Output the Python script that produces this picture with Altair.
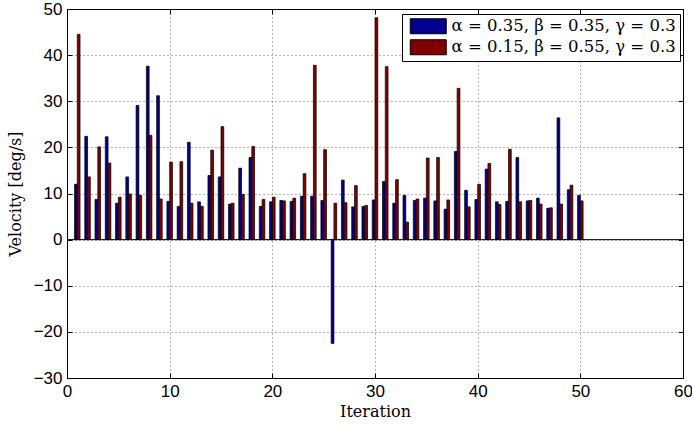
import altair as alt
import pandas as pd

iterations = list(range(1, 51))
blue_vals = [12.0, 22.4, 8.7, 22.3, 7.9, 13.6, 29.1, 37.6, 31.2, 8.3,
             7.2, 21.1, 8.2, 13.9, 13.6, 7.7, 15.5, 17.8, 7.2, 8.2,
             8.5, 8.3, 9.4, 9.4, 8.5, -22.5, 12.9, 7.1, 7.2, 8.6,
             12.6, 7.9, 9.6, 8.5, 9.0, 8.4, 6.6, 19.1, 10.7, 8.7,
             15.3, 8.2, 8.3, 17.8, 8.4, 9.0, 6.8, 26.4, 10.8, 9.6]
red_vals = [44.5, 13.6, 20.1, 16.6, 9.2, 9.9, 9.6, 22.6, 8.8, 16.8,
            16.9, 7.9, 7.2, 19.4, 24.5, 7.9, 9.8, 20.2, 8.7, 9.2,
            8.4, 9.0, 14.3, 37.8, 19.5, 7.9, 8.0, 11.7, 7.4, 48.1,
            37.5, 13.0, 3.8, 8.8, 17.7, 17.8, 8.6, 32.8, 7.1, 12.0,
            16.5, 7.6, 19.6, 8.2, 8.5, 7.7, 6.9, 7.7, 11.8, 8.4]
series_names = ["α = 0.35, β = 0.35, γ = 0.3", "α = 0.15, β = 0.55, γ = 0.3"]
series_colors = ["#00008F", "#800000"]
x_ticks = [0, 10, 20, 30, 40, 50, 60]
y_ticks = [-30, -20, -10, 0, 10, 20, 30, 40, 50]

rows = []
for k, (name, vals) in enumerate(zip(series_names, [blue_vals, red_vals])):
    for it, v in zip(iterations, vals):
        rows.append({"iteration": it, "velocity": v, "series": name, "k": k})
df = pd.DataFrame(rows)
base_df = pd.DataFrame({"xa": [x_ticks[0]], "xb": [x_ticks[-1]], "zero": [0]})

W, H = 616, 369
BAR = 0.27

xscale = alt.Scale(domain=[x_ticks[0], x_ticks[-1]], nice=False, zero=False)
yscale = alt.Scale(domain=[y_ticks[0], y_ticks[-1]], nice=False)

tick_common = dict(grid=False, labels=False, tickSize=5, tickColor="black", tickWidth=1)

main_x = alt.Axis(orient="bottom", values=x_ticks, grid=True, gridDash=[1, 3], gridColor="#666666",
                  gridWidth=1, ticks=False, domain=True, domainColor="black", domainWidth=1,
                  labelFont="Liberation Sans", labelFontSize=17, labelColor="black", labelPadding=5,
                  labelFlush=False, labelOverlap=False, format="d",
                  title="Iteration", titleFont="DejaVu Serif", titleFontSize=16,
                  titleFontWeight="normal", titleColor="black", titlePadding=4)
main_y = alt.Axis(orient="left", values=y_ticks, grid=True, gridDash=[1, 3], gridColor="#666666",
                  gridWidth=1, ticks=False, domain=True, domainColor="black", domainWidth=1,
                  labelFont="Liberation Sans", labelFontSize=17, labelColor="black", labelPadding=5,
                  labelFlush=False, labelOverlap=False, format="d",
                  title="Velocity [deg/s]", titleFont="DejaVu Serif", titleFontSize=16,
                  titleFontWeight="normal", titleColor="black", titlePadding=10)
# inward ticks at the bottom / left edges
tick_bottom = alt.Axis(orient="top", offset=-H, values=x_ticks, domain=False, title=None, **tick_common)
tick_left = alt.Axis(orient="right", offset=-W, values=y_ticks, domain=False, title=None, **tick_common)
# top / right frame lines with inward ticks
tick_top = alt.Axis(orient="bottom", offset=-H, values=x_ticks, domain=True, domainColor="black",
                    title=None, **tick_common)
tick_right = alt.Axis(orient="left", offset=-W, values=y_ticks, domain=True, domainColor="black",
                      title=None, **tick_common)

bars_base = alt.Chart(df).transform_calculate(
    x0=f"datum.iteration - {BAR} + {BAR} * datum.k",
    x1=f"datum.iteration + {BAR} * datum.k",
)

shadow = bars_base.mark_bar(color="#b5b5b5", xOffset=1.3).encode(
    x=alt.X("x0:Q", scale=xscale, axis=tick_bottom),
    x2="x1:Q",
    y=alt.Y("velocity:Q", scale=yscale, axis=tick_left, stack=False),
    y2=alt.datum(0),
)

bars = bars_base.mark_bar(stroke="black", strokeWidth=0.7).encode(
    x=alt.X("x0:Q", scale=xscale, axis=main_x),
    x2="x1:Q",
    y=alt.Y("velocity:Q", scale=yscale, axis=main_y, stack=False),
    y2=alt.datum(0),
    color=alt.Color(
        "series:N",
        scale=alt.Scale(domain=series_names, range=series_colors),
        legend=alt.Legend(
            orient="none", legendX=335, legendY=5, title=None,
            symbolType="M-2.4,-1H2.4V1H-2.4Z", symbolSize=225,
            symbolStrokeColor="black", symbolStrokeWidth=1, symbolOpacity=1,
            symbolOffset=14, labelOffset=15,
            labelFont="DejaVu Serif", labelFontSize=16.5, labelColor="black", labelLimit=400,
            padding=4, rowPadding=1, strokeColor="black", fillColor="white",
        ),
    ),
)

zero_rule = alt.Chart(base_df).mark_rule(color="black", strokeWidth=1).encode(
    x=alt.X("xa:Q", scale=xscale, axis=tick_top),
    x2="xb:Q",
    y=alt.Y("zero:Q", scale=yscale, axis=tick_right),
)

chart = alt.layer(shadow, bars, zero_rule).resolve_axis(
    x="independent", y="independent"
).properties(
    width=W, height=H,
    autosize=alt.AutoSizeParams(type="none"),
    padding={"left": 67, "top": 9, "right": 9, "bottom": 47},
    background="white",
).configure_view(stroke=None)

chart.save("out.html", embed_options={"renderer": "svg", "actions": False})
